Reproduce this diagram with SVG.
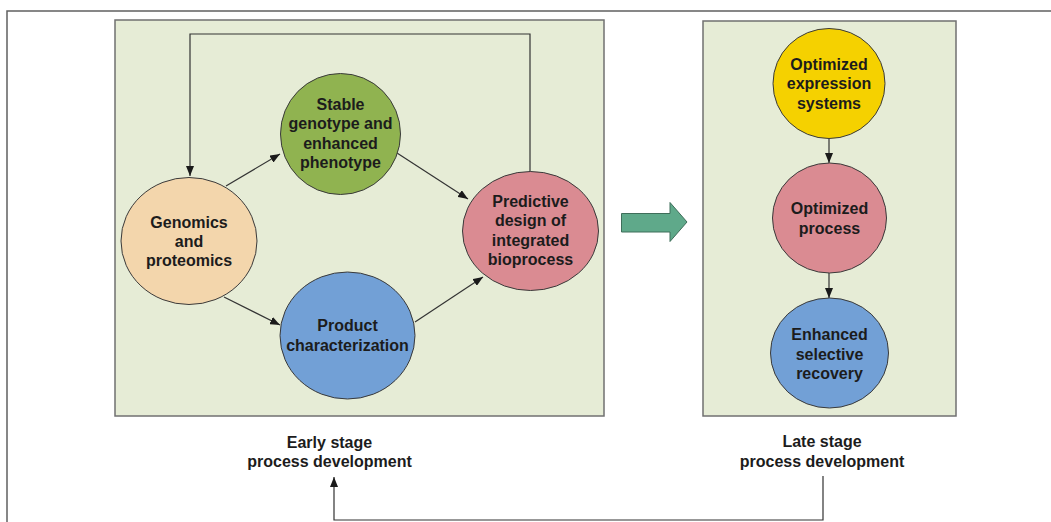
<svg xmlns="http://www.w3.org/2000/svg" width="1051" height="522" viewBox="0 0 1051 522">
<defs>
<style>
.panel{fill:#e6ecd6;stroke:#707070;stroke-width:1.5}
.node{stroke:#3a3a3a;stroke-width:1}
.t{font-family:"Liberation Sans",Arial,sans-serif;font-weight:bold;font-size:16px;fill:#1c1c1c;text-anchor:middle}
.c{fill:none;stroke:#333;stroke-width:1.2}
</style>
<marker id="ah" markerUnits="userSpaceOnUse" markerWidth="10" markerHeight="8" refX="10" refY="4" orient="auto">
<path d="M0,0 L10,4 L0,8 z" fill="#1a1a1a"/>
</marker>
</defs>
<rect width="1051" height="522" fill="#ffffff"/>
<g id="frame">
<path d="M7,522 V11 H1051" fill="none" stroke="#606060" stroke-width="1.5"/>
</g>
<g id="panels">
<rect class="panel" x="115" y="20" width="489" height="396"/>
<rect class="panel" x="703" y="21" width="253" height="395"/>
</g>
<g id="connectors">
<path class="c" d="M530,172 V34 H190 V176" marker-end="url(#ah)"/>
<path class="c" d="M226,186 L280,154" marker-end="url(#ah)"/>
<path class="c" d="M397,153 L468,199" marker-end="url(#ah)"/>
<path class="c" d="M224,297 L280,325" marker-end="url(#ah)"/>
<path class="c" d="M415,322 L483,277" marker-end="url(#ah)"/>
<path class="c" d="M829,138.5 V163" marker-end="url(#ah)"/>
<path class="c" d="M829,273 V298" marker-end="url(#ah)"/>
<path class="c" d="M823,476 V520 H334 V477" marker-end="url(#ah)"/>
</g>
<g id="big-arrow">
<path d="M621.5,213.5 H670 V202.5 L687,222 L670,241.5 V232 H621.5 Z" fill="#5fa98a" stroke="#3f6e5a" stroke-width="1"/>
</g>
<g id="node-genomics">
<ellipse class="node" cx="189" cy="241" rx="68" ry="63.5" fill="#f3d6ac"/>
<text class="t" x="189" y="227.5">Genomics</text>
<text class="t" x="189" y="246.5">and</text>
<text class="t" x="189" y="265.5">proteomics</text>
</g>
<g id="node-stable">
<ellipse class="node" cx="340.5" cy="134" rx="60" ry="60.5" fill="#90b350"/>
<text class="t" x="340.5" y="109.5">Stable</text>
<text class="t" x="340.5" y="129">genotype and</text>
<text class="t" x="340.5" y="148.5">enhanced</text>
<text class="t" x="340.5" y="167.5">phenotype</text>
</g>
<g id="node-predictive">
<ellipse class="node" cx="530.5" cy="231" rx="68" ry="59.5" fill="#da8b92"/>
<text class="t" x="530.5" y="206.5">Predictive</text>
<text class="t" x="530.5" y="226">design of</text>
<text class="t" x="530.5" y="245.5">integrated</text>
<text class="t" x="530.5" y="265">bioprocess</text>
</g>
<g id="node-product">
<ellipse class="node" cx="347.5" cy="335.5" rx="67.5" ry="63.5" fill="#72a0d6"/>
<text class="t" x="347.5" y="331">Product</text>
<text class="t" x="347.5" y="350.5">characterization</text>
</g>
<g id="node-expression">
<ellipse class="node" cx="829" cy="83.5" rx="56" ry="55" fill="#f5d100"/>
<text class="t" x="829" y="69.5">Optimized</text>
<text class="t" x="829" y="89">expression</text>
<text class="t" x="829" y="108.5">systems</text>
</g>
<g id="node-process">
<ellipse class="node" cx="829.5" cy="218" rx="57" ry="55" fill="#da8b92"/>
<text class="t" x="829.5" y="214">Optimized</text>
<text class="t" x="829.5" y="233.5">process</text>
</g>
<g id="node-recovery">
<ellipse class="node" cx="829.5" cy="353" rx="59" ry="55" fill="#72a0d6"/>
<text class="t" x="829.5" y="340">Enhanced</text>
<text class="t" x="829.5" y="359.5">selective</text>
<text class="t" x="829.5" y="378.5">recovery</text>
</g>
<g id="label-early">
<text class="t" x="329.5" y="447.5">Early stage</text>
<text class="t" x="329.5" y="466.5">process development</text>
</g>
<g id="label-late">
<text class="t" x="822" y="446.5">Late stage</text>
<text class="t" x="822" y="466.5">process development</text>
</g>
</svg>
